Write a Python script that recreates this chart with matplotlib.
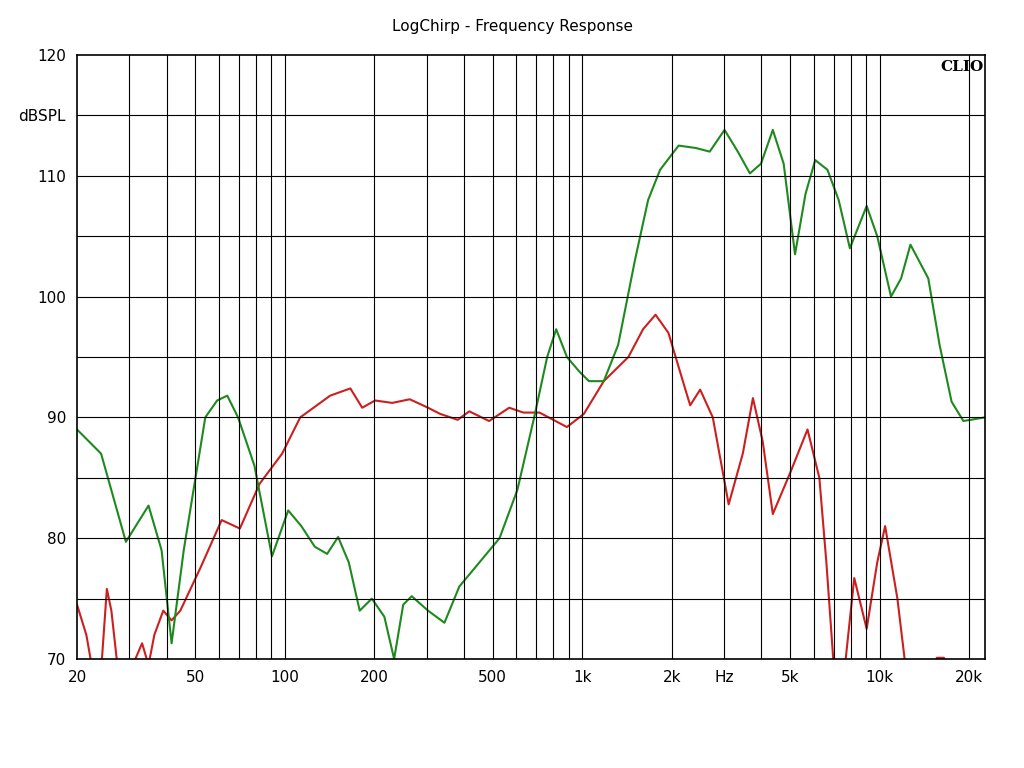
import matplotlib
matplotlib.use("Agg")
import matplotlib.pyplot as plt

# green trace (Hz, dBSPL)
green_f = [20, 24.1, 29.2, 34.8, 38.5, 41.6, 45.7, 54, 59.2, 64, 69.6, 79, 90.5, 102.6, 113.6, 126, 138.7,
           151, 164, 178.5, 196, 216, 233, 250, 267, 303, 344, 386, 451, 527, 605, 689, 762, 817, 888,
           977, 1053, 1181, 1320, 1503, 1665, 1827, 2108, 2411, 2682, 3008, 3334, 3661, 3989, 4372,
           4755, 5192, 5631, 6070, 6673, 7278, 7939, 9041, 9812, 10915, 11800, 12690, 14570, 15900,
           17450, 19120, 22600]
green_db = [89, 87, 79.7, 82.7, 79, 71.3, 79, 90, 91.4, 91.8, 90, 86, 78.5, 82.3, 81, 79.3, 78.7, 80.1,
            78, 74, 75, 73.5, 70, 74.5, 75.2, 74, 73, 76, 78, 80, 84, 90, 95, 97.3, 95, 93.8, 93, 93,
            96, 103, 108, 110.5, 112.5, 112.3, 112, 113.8, 112, 110.2, 111, 113.8, 111, 103.5, 108.5,
            111.3, 110.5, 108, 104, 107.5, 105, 100, 101.5, 104.3, 101.5, 96, 91.3, 89.7, 90]

# red trace (Hz, dBSPL); values below 70 are out of view
red_f = [20, 21.5, 22.4, 24.1, 25.2, 26.1, 27.2, 30.2, 33.1, 34.8, 36.4, 39, 41.6, 44.5, 51.9, 61.3, 70.6,
         82.2, 97.9, 112.6, 142, 166, 182, 201, 229.5, 263, 303, 332, 381, 417, 486, 568, 634, 718, 888,
         1013, 1181, 1429, 1601, 1763, 1948, 2241, 2306, 2491, 2747, 3106, 3465, 3748, 4043, 4372,
         5018, 5719, 6268, 6618, 6980, 7387, 8213, 9041, 9812, 10430, 11470, 12130, 13130, 15000,
         15560, 16450, 17000, 22600]
red_db = [74.5, 72, 69.5, 69, 75.8, 74, 70, 69, 71.3, 69.5, 72, 74, 73.2, 74, 77.5, 81.5, 80.8, 84.5,
          87, 90, 91.8, 92.4, 90.8, 91.4, 91.2, 91.5, 90.8, 90.3, 89.8, 90.5, 89.7, 90.8, 90.4, 90.4,
          89.2, 90.3, 93, 95, 97.3, 98.5, 97, 92, 91, 92.3, 90, 82.8, 87, 91.6, 88, 82, 85.5, 89, 85,
          78, 70, 66, 76.7, 72.5, 78, 81, 75, 70, 66, 66, 70.1, 70.1, 66, 66]

x_ticks = [20, 50, 100, 200, 500, 1000, 2000, 3000, 5000, 10000, 20000]
x_labels = ["20", "50", "100", "200", "500", "1k", "2k", "Hz", "5k", "10k", "20k"]
y_ticks = [70, 80, 90, 100, 110, 115, 120]
y_labels = ["70", "80", "90", "100", "110", "dBSPL", "120"]

fig = plt.figure(figsize=(10.24, 7.68), dpi=100)
ax = fig.add_axes([77 / 1024, 1 - 659 / 768, 908 / 1024, 604 / 768])

ax.plot(red_f, red_db, color="#cc1f1f", lw=1.5)
ax.plot(green_f, green_db, color="#1e8a1e", lw=1.5)

ax.set_xscale("log")
ax.set_xlim(20, 22600)
ax.set_ylim(70, 120)

vlines = [m * 10 ** e for e in range(1, 5) for m in range(1, 10)]
for v in vlines:
    if 20 < v <= 20000:
        ax.axvline(v, color="black", lw=0.8)
for h in range(75, 120, 5):
    ax.axhline(h, color="black", lw=0.8)

ax.set_xticks(x_ticks)
ax.set_xticklabels(x_labels)
ax.minorticks_off()
ax.set_yticks(y_ticks)
ax.set_yticklabels(y_labels)
ax.tick_params(length=0, labelsize=11, pad=8)
for s in ax.spines.values():
    s.set_linewidth(1.2)

ax.text(0.998, 0.992, "CLIO", transform=ax.transAxes, ha="right", va="top",
        family="DejaVu Serif", fontweight="bold", fontsize=11)
fig.text(512 / 1024, 1 - 27 / 768, "LogChirp - Frequency Response", ha="center", va="center", fontsize=11)

fig.savefig("out.png", dpi=100)
